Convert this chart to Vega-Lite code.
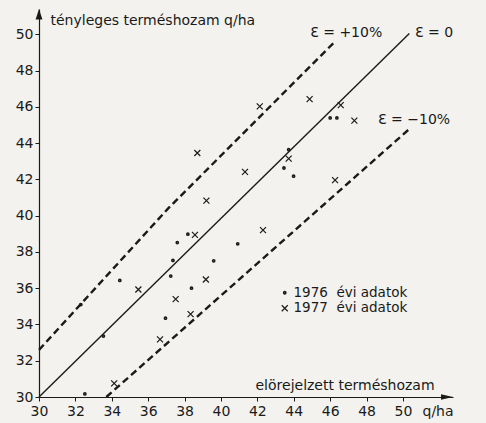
{
  "$schema": "https://vega.github.io/schema/vega-lite/v6.json",
  "width": 414,
  "height": 388,
  "autosize": {"type": "none"},
  "padding": {"left": 39, "top": 9, "right": 33, "bottom": 26},
  "background": "#f3f2ee",
  "config": {
    "view": {"stroke": null},
    "font": "DejaVu Sans",
    "axis": {"labelFont": "DejaVu Sans", "titleFont": "DejaVu Sans"}
  },
  "datasets": {
    "points": [
      {"x": 32.52, "y": 30.17, "year": "1976"},
      {"x": 33.54, "y": 33.36, "year": "1976"},
      {"x": 32.3, "y": 35.1, "year": "1976"},
      {"x": 34.44, "y": 36.43, "year": "1976"},
      {"x": 36.95, "y": 34.35, "year": "1976"},
      {"x": 37.24, "y": 36.67, "year": "1976"},
      {"x": 37.36, "y": 37.53, "year": "1976"},
      {"x": 37.6, "y": 38.52, "year": "1976"},
      {"x": 38.18, "y": 38.98, "year": "1976"},
      {"x": 38.38, "y": 36.0, "year": "1976"},
      {"x": 39.6, "y": 37.51, "year": "1976"},
      {"x": 40.92, "y": 38.45, "year": "1976"},
      {"x": 43.72, "y": 43.64, "year": "1976"},
      {"x": 43.46, "y": 42.63, "year": "1976"},
      {"x": 43.99, "y": 42.18, "year": "1976"},
      {"x": 46.0, "y": 45.39, "year": "1976"},
      {"x": 46.37, "y": 45.39, "year": "1976"},
      {"x": 34.13, "y": 30.75, "year": "1977"},
      {"x": 36.65, "y": 33.18, "year": "1977"},
      {"x": 35.46, "y": 35.93, "year": "1977"},
      {"x": 37.51, "y": 35.4, "year": "1977"},
      {"x": 38.33, "y": 34.57, "year": "1977"},
      {"x": 39.17, "y": 36.48, "year": "1977"},
      {"x": 38.57, "y": 38.94, "year": "1977"},
      {"x": 39.2, "y": 40.83, "year": "1977"},
      {"x": 38.7, "y": 43.46, "year": "1977"},
      {"x": 41.32, "y": 42.42, "year": "1977"},
      {"x": 42.31, "y": 39.2, "year": "1977"},
      {"x": 42.13, "y": 46.03, "year": "1977"},
      {"x": 44.87, "y": 46.43, "year": "1977"},
      {"x": 46.58, "y": 46.1, "year": "1977"},
      {"x": 47.33, "y": 45.24, "year": "1977"},
      {"x": 43.72, "y": 43.15, "year": "1977"},
      {"x": 46.27, "y": 41.96, "year": "1977"}
    ],
    "solidLine": [
      {"line": "e0", "x": 30, "y": 30},
      {"line": "e0", "x": 50.35, "y": 50.05}
    ],
    "dashedLines": [
      {"line": "up", "x": 30, "y": 32.6},
      {"line": "up", "x": 37.1, "y": 40.4},
      {"line": "up", "x": 46.26, "y": 49.6},
      {"line": "low", "x": 33.7, "y": 30},
      {"line": "low", "x": 50.37, "y": 44.8}
    ],
    "labels": [
      {"x": 44.9, "y": 50.06, "label": "Ɛ = +10%"},
      {"x": 50.66, "y": 50.06, "label": "Ɛ = 0"},
      {"x": 48.63, "y": 45.26, "label": "Ɛ = −10%"}
    ],
    "arrowUp": [{"x": 30, "y": 51.11}],
    "arrowRight": [{"x": 52.42, "y": 30}]
  },
  "encoding": {
    "x": {
      "field": "x",
      "type": "quantitative",
      "scale": {"domain": [30, 52.75], "nice": false, "zero": false},
      "axis": {
        "values": [30, 32, 34, 36, 38, 40, 42, 44, 46, 48, 50, 51.9],
        "labelExpr": "datum.value > 50 ? 'q/ha' : datum.label",
        "tickOpacity": {"condition": {"test": "datum.value > 50", "value": 0}, "value": 1},
        "labelFlush": false,
        "labelOverlap": false,
        "labelFontSize": 14,
        "labelColor": "#1a1a1a",
        "labelPadding": 3,
        "tickSize": 4,
        "tickColor": "#1a1a1a",
        "domainColor": "#1a1a1a",
        "domainWidth": 1.2,
        "grid": false,
        "title": "elörejelzett terméshozam",
        "titleFontWeight": "normal",
        "titleFontSize": 14,
        "titleColor": "#1a1a1a",
        "titleAlign": "left",
        "titleBaseline": "alphabetic",
        "titleX": 216,
        "titleY": -8
      }
    },
    "y": {
      "field": "y",
      "type": "quantitative",
      "scale": {"domain": [30, 51.4], "nice": false, "zero": false},
      "axis": {
        "values": [30, 32, 34, 36, 38, 40, 42, 44, 46, 48, 50],
        "labelFlush": false,
        "labelFontSize": 14,
        "labelColor": "#1a1a1a",
        "labelPadding": 2,
        "tickSize": 4,
        "tickColor": "#1a1a1a",
        "domainColor": "#1a1a1a",
        "domainWidth": 1.2,
        "grid": false,
        "title": "tényleges terméshozam q/ha",
        "titleFontWeight": "normal",
        "titleFontSize": 14,
        "titleColor": "#1a1a1a",
        "titleAngle": 0,
        "titleAlign": "left",
        "titleBaseline": "middle",
        "titleX": 11,
        "titleY": 11
      }
    }
  },
  "layer": [
    {
      "data": {"name": "solidLine"},
      "mark": {"type": "line", "color": "#1a1a1a", "strokeWidth": 1.4},
      "encoding": {
        "order": {"field": "x", "type": "quantitative"}
      }
    },
    {
      "data": {"name": "dashedLines"},
      "mark": {"type": "line", "color": "#1a1a1a", "strokeWidth": 2.4, "strokeDash": [7, 4]},
      "encoding": {
        "detail": {"field": "line"},
        "order": {"field": "x", "type": "quantitative"}
      }
    },
    {
      "data": {"name": "points"},
      "mark": {"type": "point", "filled": false, "color": "#1a1a1a", "stroke": "#1a1a1a", "opacity": 1},
      "encoding": {
        "shape": {
          "field": "year",
          "type": "nominal",
          "scale": {"domain": ["1976", "1977"], "range": ["circle", "M-1,-1L1,1M1,-1L-1,1"]},
          "legend": {
            "orient": "none",
            "legendX": 239,
            "legendY": 277,
            "title": null,
            "padding": 0,
            "labelFont": "DejaVu Sans",
            "labelFontSize": 13.5,
            "labelColor": "#1a1a1a",
            "labelOffset": 2,
            "rowPadding": 0.5,
            "symbolStrokeColor": "#1a1a1a",
            "labelExpr": "datum.label + '\u00a0 évi adatok'"
          }
        },
        "size": {
          "field": "year",
          "type": "ordinal",
          "scale": {"domain": ["1976", "1977"], "range": [2.5, 36]},
          "legend": {
            "orient": "none",
            "legendX": 239,
            "legendY": 277,
            "title": null,
            "padding": 0,
            "labelFont": "DejaVu Sans",
            "labelFontSize": 13.5,
            "labelColor": "#1a1a1a",
            "labelOffset": 2,
            "rowPadding": 0.5,
            "symbolStrokeColor": "#1a1a1a",
            "labelExpr": "datum.label + '\u00a0 évi adatok'"
          }
        },
        "strokeWidth": {
          "field": "year",
          "type": "ordinal",
          "scale": {"domain": ["1976", "1977"], "range": [2.2, 1.2]},
          "legend": {
            "orient": "none",
            "legendX": 239,
            "legendY": 277,
            "title": null,
            "padding": 0,
            "labelFont": "DejaVu Sans",
            "labelFontSize": 13.5,
            "labelColor": "#1a1a1a",
            "labelOffset": 2,
            "rowPadding": 0.5,
            "symbolStrokeColor": "#1a1a1a",
            "labelExpr": "datum.label + '\u00a0 évi adatok'"
          }
        }
      }
    },
    {
      "data": {"name": "labels"},
      "mark": {"type": "text", "align": "left", "baseline": "middle", "font": "DejaVu Sans", "fontSize": 14, "color": "#1a1a1a"},
      "encoding": {"text": {"field": "label", "type": "nominal"}}
    },
    {
      "data": {"name": "arrowUp"},
      "mark": {"type": "point", "filled": true, "color": "#1a1a1a", "opacity": 1, "size": 110, "shape": "M0,-1L0.65,1L-0.65,1Z"}
    },
    {
      "data": {"name": "arrowRight"},
      "mark": {"type": "point", "filled": true, "color": "#1a1a1a", "opacity": 1, "size": 144, "shape": "M1,0L-1,-0.45L-1,0.45Z"}
    }
  ]
}
